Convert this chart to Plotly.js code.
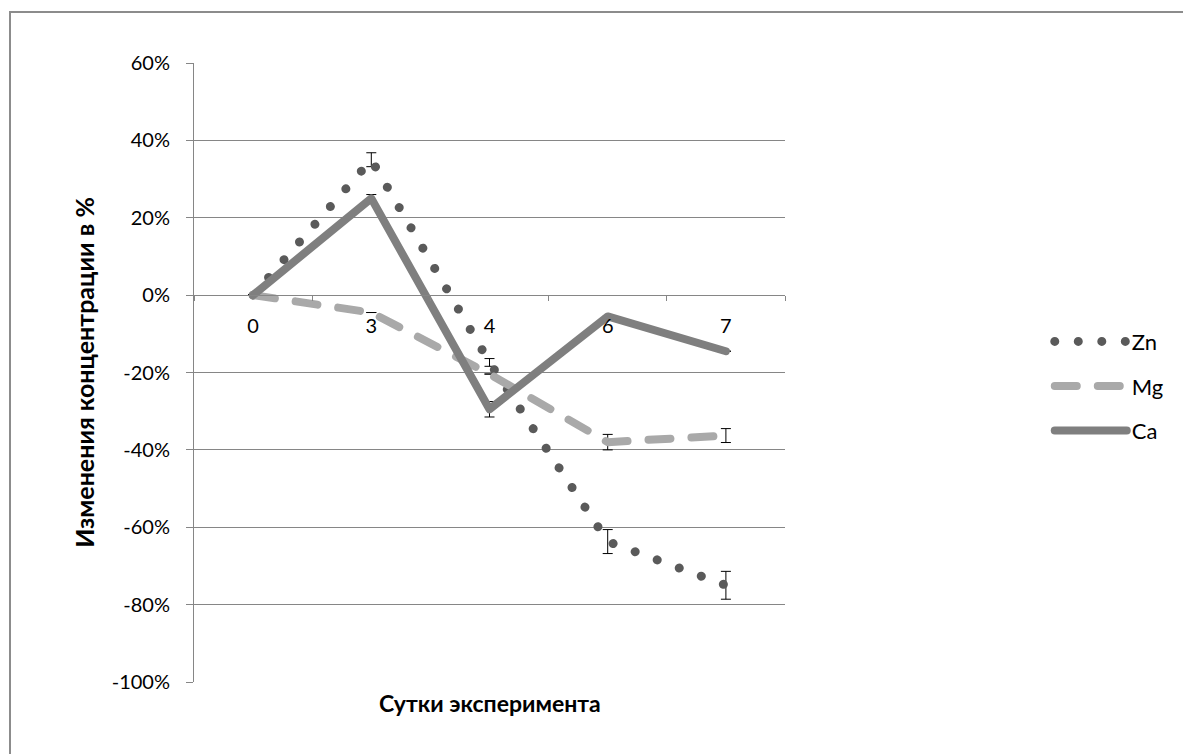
<!DOCTYPE html>
<html>
<head>
<meta charset="utf-8">
<script src="https://cdn.plot.ly/plotly-3.0.1.min.js"></script>
<style>
  html, body { margin: 0; padding: 0; background: #fff; overflow: hidden; }
  #wrap { position: relative; width: 1183px; height: 754px; }
  #frame { position: absolute; left: 9px; top: 11px; width: 1300px; height: 900px;
           border-left: 2px solid #8c8c8c; border-top: 2px solid #8c8c8c; pointer-events: none; }
  #chart { position: absolute; left: 0; top: 0; width: 1183px; height: 754px; }
  .scatterlayer .js-line, .legendlines path { stroke-linecap: round; stroke-linejoin: round; }
</style>
</head>
<body>
<div id="wrap">
  <div id="chart"></div>
  <div id="frame"></div>
</div>
<script>
// ---- data ----
var days = ['0', '3', '4', '6', '7'];
var zn = [0, 35, -17.4, -63.7, -75];
var mg = [0, -4.5, -20.4, -38, -36.3];
var ca = [0, 25, -29.5, -5.5, -14.5];
var znErr = [null, 1.8, 1.0, 3.1, 3.6];
var mgErr = [null, null, null, 2.0, 1.8];
var caErr = [null, 1.0, 2.0, null, null];
var yTickVals = [-100, -80, -60, -40, -20, 0, 20, 40, 60];
var yTickText = ['-100%', '-80%', '-60%', '-40%', '-20%', '0%', '20%', '40%', '60%'];
var seriesNames = ['Zn', 'Mg', 'Ca'];
var yTitle = 'Изменения концентрации в %';
var xTitle = 'Сутки эксперимента';

var FONT = 'Lato, "Open Sans", "DejaVu Sans", sans-serif';
var errStyle = function (arr) {
  return { type: 'data', symmetric: true, array: arr, color: '#000000', thickness: 1, width: 5, visible: true };
};

var traces = [
  { x: days, y: zn, name: seriesNames[0], type: 'scatter', mode: 'lines', legendgroup: 'a',
    line: { color: '#5a5a5a', width: 9, dash: '0.01px,23.5px' }, error_y: errStyle(znErr) },
  { x: days, y: mg, name: seriesNames[1], type: 'scatter', mode: 'lines', legendgroup: 'b',
    line: { color: '#a9a9a9', width: 8, dash: '22px,21px' }, error_y: errStyle(mgErr) },
  { x: days, y: ca, name: seriesNames[2], type: 'scatter', mode: 'lines', legendgroup: 'c',
    line: { color: '#7f7f7f', width: 8 }, error_y: errStyle(caErr) }
];

var layout = {
  width: 1183, height: 754,
  margin: { l: 194, r: 398, t: 63, b: 72, pad: 0 },
  paper_bgcolor: '#ffffff', plot_bgcolor: '#ffffff',
  font: { family: FONT, size: 19, color: '#000000' },
  showlegend: true,
  legend: {
    x: 1.448, y: 0.478, xanchor: 'left', yanchor: 'middle',
    font: { family: FONT, size: 22, color: '#000000' },
    traceorder: 'grouped', tracegroupgap: 13, itemwidth: 72,
    bgcolor: 'rgba(0,0,0,0)'
  },
  xaxis: {
    type: 'category', categoryorder: 'array', categoryarray: days,
    range: [-0.5, 4.5], anchor: 'free', position: 0.625,
    showline: true, linecolor: '#868686', linewidth: 1,
    ticks: 'outside', tickson: 'boundaries', ticklen: 5, tickcolor: '#868686',
    showgrid: false, zeroline: false, ticklabelstandoff: 13,
    tickfont: { family: FONT, size: 20, color: '#000000' }
  },
  yaxis: {
    range: [-100, 60], tickmode: 'array', tickvals: yTickVals, ticktext: yTickText,
    showline: true, linecolor: '#868686', linewidth: 1,
    ticks: 'outside', ticklen: 7, tickcolor: '#868686',
    showgrid: true, gridcolor: '#868686', gridwidth: 1, zeroline: false,
    ticklabelstandoff: 12,
    tickfont: { family: FONT, size: 20, color: '#000000' },
    title: { text: yTitle, font: { family: FONT, size: 25, color: '#000000', weight: 'bold' }, standoff: 9 }
  },
  annotations: [
    { text: '<b>' + xTitle + '</b>', xref: 'paper', yref: 'paper', x: 0.5, y: -0.034,
      xanchor: 'center', yanchor: 'middle', showarrow: false,
      font: { family: FONT, size: 23, color: '#000000' } }
  ]
};

Plotly.newPlot('chart', traces, layout, { staticPlot: true, displayModeBar: false });
</script>
</body>
</html>
